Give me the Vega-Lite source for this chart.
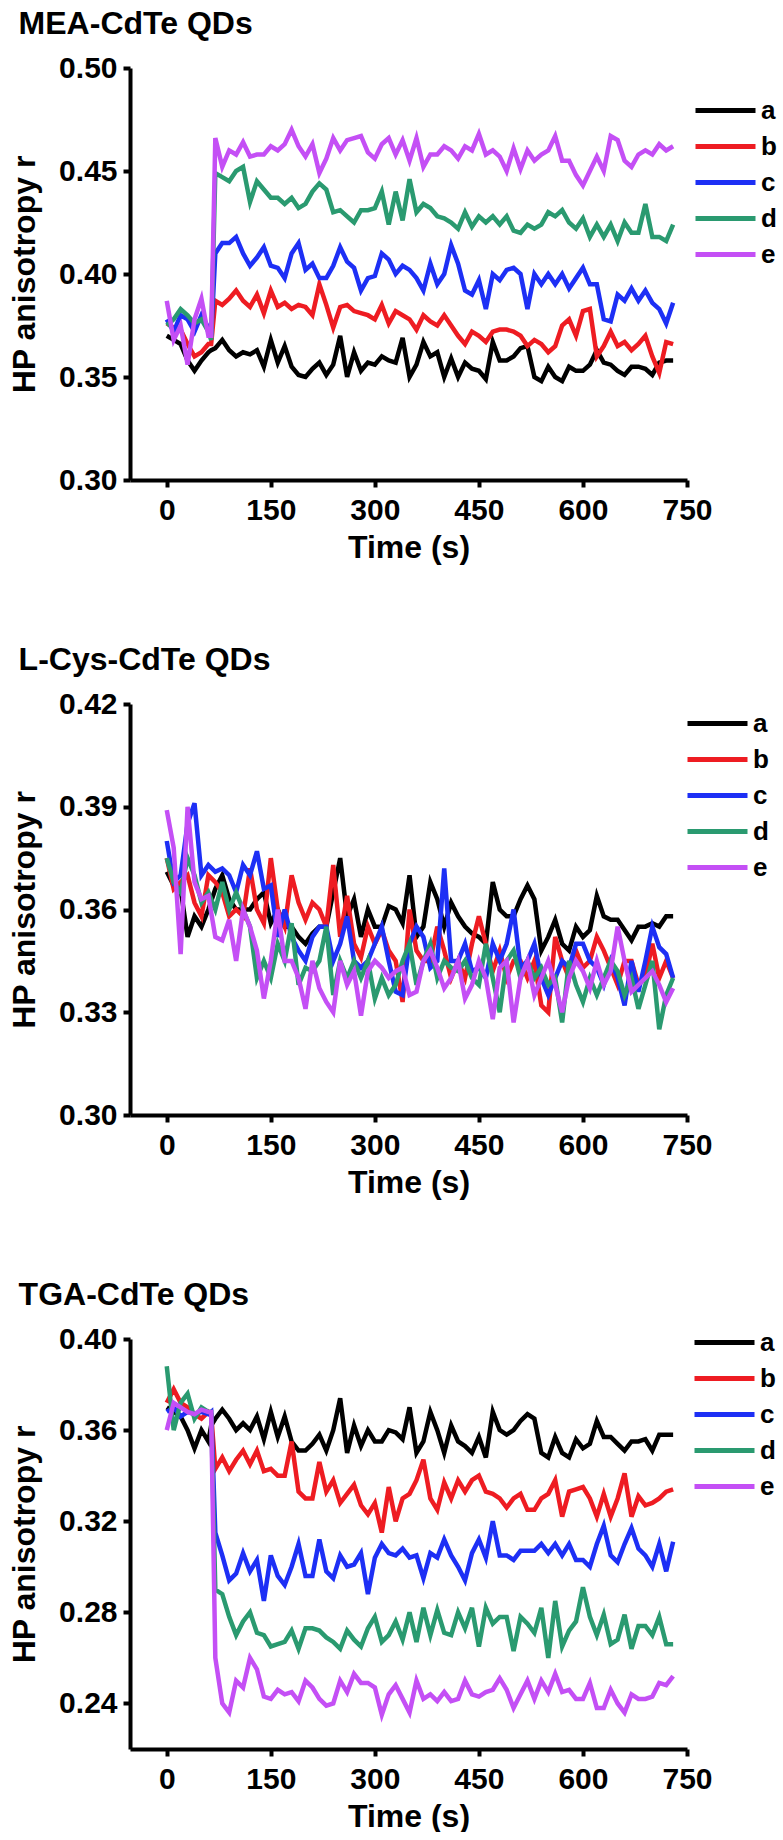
{
"$schema": "https://vega.github.io/schema/vega-lite/v6.json",
"padding": {"left": 8, "top": 8, "right": 0, "bottom": 0},
"autosize": {"type": "pad"},
"background": "white",
"config": {
 "view": {"stroke": null},
 "font": "Liberation Sans",
 "axis": {"grid": false, "domainColor": "black", "domainWidth": 4, "tickColor": "black", "tickWidth": 4, "tickSize": 7, "labelFont": "Liberation Sans", "labelFontWeight": "bold", "labelFontSize": 30, "labelColor": "black", "labelFlush": false, "labelOverlap": false, "titleFont": "Liberation Sans", "titleFontSize": 32, "titleFontWeight": "bold", "titleColor": "black"},
 "axisX": {"labelPadding": 8, "titlePadding": 7},
 "axisY": {"labelPadding": 6, "titlePadding": 17},
 "title": {"font": "Liberation Sans", "fontSize": 32, "fontWeight": "bold", "color": "black", "anchor": "start", "offset": 12, "dx": 10},
 "legend": {"title": null, "orient": "none", "symbolType": "M-2,0L2,0", "symbolSize": 900, "symbolStrokeWidth": 5, "labelFont": "Liberation Sans", "labelFontSize": 26, "labelFontWeight": "bold", "labelColor": "black", "labelOffset": 18, "rowPadding": 5, "padding": 0}
},
"bounds": "flush",
"spacing": 224,
"resolve": {"scale": {"color": "independent"}, "legend": {"color": "independent"}},
"datasets": {
"mea": [
{"t":0,"s":"a","r":0.370},{"t":0,"s":"b","r":0.376},{"t":0,"s":"c","r":0.378},{"t":0,"s":"d","r":0.375},{"t":0,"s":"e","r":0.387},
{"t":10,"s":"a","r":0.368},{"t":10,"s":"b","r":0.374},{"t":10,"s":"c","r":0.372},{"t":10,"s":"d","r":0.378},{"t":10,"s":"e","r":0.368},
{"t":20,"s":"a","r":0.366},{"t":20,"s":"b","r":0.373},{"t":20,"s":"c","r":0.380},{"t":20,"s":"d","r":0.383},{"t":20,"s":"e","r":0.375},
{"t":30,"s":"a","r":0.358},{"t":30,"s":"b","r":0.366},{"t":30,"s":"c","r":0.378},{"t":30,"s":"d","r":0.380},{"t":30,"s":"e","r":0.356},
{"t":40,"s":"a","r":0.353},{"t":40,"s":"b","r":0.360},{"t":40,"s":"c","r":0.372},{"t":40,"s":"d","r":0.376},{"t":40,"s":"e","r":0.378},
{"t":50,"s":"a","r":0.358},{"t":50,"s":"b","r":0.362},{"t":50,"s":"c","r":0.380},{"t":50,"s":"d","r":0.378},{"t":50,"s":"e","r":0.388},
{"t":60,"s":"a","r":0.362},{"t":60,"s":"b","r":0.366},{"t":60,"s":"c","r":0.374},{"t":60,"s":"d","r":0.372},{"t":60,"s":"e","r":0.370},
{"t":64,"s":"a","r":0.363},{"t":64,"s":"b","r":0.366},{"t":64,"s":"c","r":0.370},{"t":64,"s":"d","r":0.368},{"t":64,"s":"e","r":0.370},
{"t":70,"s":"a","r":0.364},{"t":70,"s":"b","r":0.387},{"t":70,"s":"c","r":0.410},{"t":70,"s":"d","r":0.449},{"t":70,"s":"e","r":0.466},
{"t":80,"s":"a","r":0.368},{"t":80,"s":"b","r":0.385},{"t":80,"s":"c","r":0.415},{"t":80,"s":"d","r":0.447},{"t":80,"s":"e","r":0.452},
{"t":90,"s":"a","r":0.363},{"t":90,"s":"b","r":0.388},{"t":90,"s":"c","r":0.415},{"t":90,"s":"d","r":0.445},{"t":90,"s":"e","r":0.460},
{"t":100,"s":"a","r":0.360},{"t":100,"s":"b","r":0.392},{"t":100,"s":"c","r":0.418},{"t":100,"s":"d","r":0.450},{"t":100,"s":"e","r":0.458},
{"t":110,"s":"a","r":0.362},{"t":110,"s":"b","r":0.387},{"t":110,"s":"c","r":0.410},{"t":110,"s":"d","r":0.452},{"t":110,"s":"e","r":0.464},
{"t":120,"s":"a","r":0.361},{"t":120,"s":"b","r":0.384},{"t":120,"s":"c","r":0.404},{"t":120,"s":"d","r":0.435},{"t":120,"s":"e","r":0.457},
{"t":130,"s":"a","r":0.363},{"t":130,"s":"b","r":0.390},{"t":130,"s":"c","r":0.408},{"t":130,"s":"d","r":0.445},{"t":130,"s":"e","r":0.458},
{"t":140,"s":"a","r":0.355},{"t":140,"s":"b","r":0.381},{"t":140,"s":"c","r":0.413},{"t":140,"s":"d","r":0.441},{"t":140,"s":"e","r":0.458},
{"t":150,"s":"a","r":0.368},{"t":150,"s":"b","r":0.392},{"t":150,"s":"c","r":0.404},{"t":150,"s":"d","r":0.437},{"t":150,"s":"e","r":0.462},
{"t":160,"s":"a","r":0.357},{"t":160,"s":"b","r":0.384},{"t":160,"s":"c","r":0.403},{"t":160,"s":"d","r":0.437},{"t":160,"s":"e","r":0.460},
{"t":170,"s":"a","r":0.365},{"t":170,"s":"b","r":0.386},{"t":170,"s":"c","r":0.398},{"t":170,"s":"d","r":0.434},{"t":170,"s":"e","r":0.463},
{"t":180,"s":"a","r":0.355},{"t":180,"s":"b","r":0.383},{"t":180,"s":"c","r":0.410},{"t":180,"s":"d","r":0.437},{"t":180,"s":"e","r":0.470},
{"t":190,"s":"a","r":0.351},{"t":190,"s":"b","r":0.385},{"t":190,"s":"c","r":0.415},{"t":190,"s":"d","r":0.432},{"t":190,"s":"e","r":0.462},
{"t":200,"s":"a","r":0.350},{"t":200,"s":"b","r":0.384},{"t":200,"s":"c","r":0.402},{"t":200,"s":"d","r":0.434},{"t":200,"s":"e","r":0.457},
{"t":210,"s":"a","r":0.354},{"t":210,"s":"b","r":0.380},{"t":210,"s":"c","r":0.405},{"t":210,"s":"d","r":0.440},{"t":210,"s":"e","r":0.463},
{"t":220,"s":"a","r":0.357},{"t":220,"s":"b","r":0.395},{"t":220,"s":"c","r":0.398},{"t":220,"s":"d","r":0.444},{"t":220,"s":"e","r":0.449},
{"t":230,"s":"a","r":0.351},{"t":230,"s":"b","r":0.385},{"t":230,"s":"c","r":0.398},{"t":230,"s":"d","r":0.441},{"t":230,"s":"e","r":0.456},
{"t":240,"s":"a","r":0.356},{"t":240,"s":"b","r":0.374},{"t":240,"s":"c","r":0.404},{"t":240,"s":"d","r":0.430},{"t":240,"s":"e","r":0.466},
{"t":250,"s":"a","r":0.370},{"t":250,"s":"b","r":0.384},{"t":250,"s":"c","r":0.413},{"t":250,"s":"d","r":0.431},{"t":250,"s":"e","r":0.460},
{"t":260,"s":"a","r":0.350},{"t":260,"s":"b","r":0.385},{"t":260,"s":"c","r":0.406},{"t":260,"s":"d","r":0.428},{"t":260,"s":"e","r":0.465},
{"t":270,"s":"a","r":0.362},{"t":270,"s":"b","r":0.382},{"t":270,"s":"c","r":0.403},{"t":270,"s":"d","r":0.425},{"t":270,"s":"e","r":0.466},
{"t":280,"s":"a","r":0.353},{"t":280,"s":"b","r":0.381},{"t":280,"s":"c","r":0.392},{"t":280,"s":"d","r":0.431},{"t":280,"s":"e","r":0.467},
{"t":290,"s":"a","r":0.357},{"t":290,"s":"b","r":0.380},{"t":290,"s":"c","r":0.398},{"t":290,"s":"d","r":0.431},{"t":290,"s":"e","r":0.459},
{"t":300,"s":"a","r":0.356},{"t":300,"s":"b","r":0.378},{"t":300,"s":"c","r":0.399},{"t":300,"s":"d","r":0.432},{"t":300,"s":"e","r":0.456},
{"t":310,"s":"a","r":0.360},{"t":310,"s":"b","r":0.385},{"t":310,"s":"c","r":0.410},{"t":310,"s":"d","r":0.440},{"t":310,"s":"e","r":0.463},
{"t":320,"s":"a","r":0.358},{"t":320,"s":"b","r":0.376},{"t":320,"s":"c","r":0.407},{"t":320,"s":"d","r":0.424},{"t":320,"s":"e","r":0.466},
{"t":330,"s":"a","r":0.357},{"t":330,"s":"b","r":0.382},{"t":330,"s":"c","r":0.400},{"t":330,"s":"d","r":0.440},{"t":330,"s":"e","r":0.458},
{"t":340,"s":"a","r":0.369},{"t":340,"s":"b","r":0.380},{"t":340,"s":"c","r":0.404},{"t":340,"s":"d","r":0.426},{"t":340,"s":"e","r":0.465},
{"t":350,"s":"a","r":0.350},{"t":350,"s":"b","r":0.378},{"t":350,"s":"c","r":0.402},{"t":350,"s":"d","r":0.446},{"t":350,"s":"e","r":0.455},
{"t":360,"s":"a","r":0.356},{"t":360,"s":"b","r":0.373},{"t":360,"s":"c","r":0.398},{"t":360,"s":"d","r":0.430},{"t":360,"s":"e","r":0.466},
{"t":370,"s":"a","r":0.367},{"t":370,"s":"b","r":0.380},{"t":370,"s":"c","r":0.392},{"t":370,"s":"d","r":0.434},{"t":370,"s":"e","r":0.452},
{"t":380,"s":"a","r":0.360},{"t":380,"s":"b","r":0.377},{"t":380,"s":"c","r":0.405},{"t":380,"s":"d","r":0.432},{"t":380,"s":"e","r":0.458},
{"t":390,"s":"a","r":0.362},{"t":390,"s":"b","r":0.375},{"t":390,"s":"c","r":0.395},{"t":390,"s":"d","r":0.428},{"t":390,"s":"e","r":0.458},
{"t":400,"s":"a","r":0.350},{"t":400,"s":"b","r":0.380},{"t":400,"s":"c","r":0.400},{"t":400,"s":"d","r":0.427},{"t":400,"s":"e","r":0.462},
{"t":410,"s":"a","r":0.359},{"t":410,"s":"b","r":0.375},{"t":410,"s":"c","r":0.414},{"t":410,"s":"d","r":0.425},{"t":410,"s":"e","r":0.460},
{"t":420,"s":"a","r":0.350},{"t":420,"s":"b","r":0.370},{"t":420,"s":"c","r":0.405},{"t":420,"s":"d","r":0.422},{"t":420,"s":"e","r":0.456},
{"t":430,"s":"a","r":0.357},{"t":430,"s":"b","r":0.366},{"t":430,"s":"c","r":0.392},{"t":430,"s":"d","r":0.430},{"t":430,"s":"e","r":0.462},
{"t":440,"s":"a","r":0.354},{"t":440,"s":"b","r":0.372},{"t":440,"s":"c","r":0.390},{"t":440,"s":"d","r":0.423},{"t":440,"s":"e","r":0.460},
{"t":450,"s":"a","r":0.353},{"t":450,"s":"b","r":0.370},{"t":450,"s":"c","r":0.397},{"t":450,"s":"d","r":0.428},{"t":450,"s":"e","r":0.468},
{"t":460,"s":"a","r":0.349},{"t":460,"s":"b","r":0.367},{"t":460,"s":"c","r":0.383},{"t":460,"s":"d","r":0.425},{"t":460,"s":"e","r":0.458},
{"t":470,"s":"a","r":0.367},{"t":470,"s":"b","r":0.372},{"t":470,"s":"c","r":0.400},{"t":470,"s":"d","r":0.428},{"t":470,"s":"e","r":0.460},
{"t":480,"s":"a","r":0.358},{"t":480,"s":"b","r":0.373},{"t":480,"s":"c","r":0.397},{"t":480,"s":"d","r":0.424},{"t":480,"s":"e","r":0.457},
{"t":490,"s":"a","r":0.358},{"t":490,"s":"b","r":0.373},{"t":490,"s":"c","r":0.402},{"t":490,"s":"d","r":0.428},{"t":490,"s":"e","r":0.450},
{"t":500,"s":"a","r":0.360},{"t":500,"s":"b","r":0.372},{"t":500,"s":"c","r":0.403},{"t":500,"s":"d","r":0.421},{"t":500,"s":"e","r":0.461},
{"t":510,"s":"a","r":0.364},{"t":510,"s":"b","r":0.370},{"t":510,"s":"c","r":0.400},{"t":510,"s":"d","r":0.420},{"t":510,"s":"e","r":0.451},
{"t":520,"s":"a","r":0.365},{"t":520,"s":"b","r":0.365},{"t":520,"s":"c","r":0.383},{"t":520,"s":"d","r":0.424},{"t":520,"s":"e","r":0.460},
{"t":530,"s":"a","r":0.350},{"t":530,"s":"b","r":0.368},{"t":530,"s":"c","r":0.400},{"t":530,"s":"d","r":0.422},{"t":530,"s":"e","r":0.455},
{"t":540,"s":"a","r":0.348},{"t":540,"s":"b","r":0.366},{"t":540,"s":"c","r":0.395},{"t":540,"s":"d","r":0.424},{"t":540,"s":"e","r":0.458},
{"t":550,"s":"a","r":0.355},{"t":550,"s":"b","r":0.362},{"t":550,"s":"c","r":0.400},{"t":550,"s":"d","r":0.430},{"t":550,"s":"e","r":0.460},
{"t":560,"s":"a","r":0.350},{"t":560,"s":"b","r":0.365},{"t":560,"s":"c","r":0.395},{"t":560,"s":"d","r":0.428},{"t":560,"s":"e","r":0.467},
{"t":570,"s":"a","r":0.348},{"t":570,"s":"b","r":0.375},{"t":570,"s":"c","r":0.400},{"t":570,"s":"d","r":0.431},{"t":570,"s":"e","r":0.455},
{"t":580,"s":"a","r":0.355},{"t":580,"s":"b","r":0.378},{"t":580,"s":"c","r":0.393},{"t":580,"s":"d","r":0.425},{"t":580,"s":"e","r":0.455},
{"t":590,"s":"a","r":0.353},{"t":590,"s":"b","r":0.370},{"t":590,"s":"c","r":0.398},{"t":590,"s":"d","r":0.422},{"t":590,"s":"e","r":0.448},
{"t":600,"s":"a","r":0.353},{"t":600,"s":"b","r":0.382},{"t":600,"s":"c","r":0.403},{"t":600,"s":"d","r":0.427},{"t":600,"s":"e","r":0.443},
{"t":610,"s":"a","r":0.356},{"t":610,"s":"b","r":0.383},{"t":610,"s":"c","r":0.395},{"t":610,"s":"d","r":0.418},{"t":610,"s":"e","r":0.450},
{"t":620,"s":"a","r":0.363},{"t":620,"s":"b","r":0.360},{"t":620,"s":"c","r":0.395},{"t":620,"s":"d","r":0.424},{"t":620,"s":"e","r":0.457},
{"t":630,"s":"a","r":0.357},{"t":630,"s":"b","r":0.365},{"t":630,"s":"c","r":0.378},{"t":630,"s":"d","r":0.418},{"t":630,"s":"e","r":0.450},
{"t":640,"s":"a","r":0.356},{"t":640,"s":"b","r":0.372},{"t":640,"s":"c","r":0.377},{"t":640,"s":"d","r":0.424},{"t":640,"s":"e","r":0.467},
{"t":650,"s":"a","r":0.353},{"t":650,"s":"b","r":0.365},{"t":650,"s":"c","r":0.390},{"t":650,"s":"d","r":0.416},{"t":650,"s":"e","r":0.465},
{"t":660,"s":"a","r":0.351},{"t":660,"s":"b","r":0.367},{"t":660,"s":"c","r":0.387},{"t":660,"s":"d","r":0.425},{"t":660,"s":"e","r":0.455},
{"t":670,"s":"a","r":0.355},{"t":670,"s":"b","r":0.363},{"t":670,"s":"c","r":0.393},{"t":670,"s":"d","r":0.420},{"t":670,"s":"e","r":0.452},
{"t":680,"s":"a","r":0.355},{"t":680,"s":"b","r":0.366},{"t":680,"s":"c","r":0.387},{"t":680,"s":"d","r":0.420},{"t":680,"s":"e","r":0.458},
{"t":690,"s":"a","r":0.354},{"t":690,"s":"b","r":0.370},{"t":690,"s":"c","r":0.392},{"t":690,"s":"d","r":0.434},{"t":690,"s":"e","r":0.460},
{"t":700,"s":"a","r":0.351},{"t":700,"s":"b","r":0.360},{"t":700,"s":"c","r":0.386},{"t":700,"s":"d","r":0.418},{"t":700,"s":"e","r":0.458},
{"t":710,"s":"a","r":0.357},{"t":710,"s":"b","r":0.352},{"t":710,"s":"c","r":0.383},{"t":710,"s":"d","r":0.418},{"t":710,"s":"e","r":0.463},
{"t":720,"s":"a","r":0.358},{"t":720,"s":"b","r":0.367},{"t":720,"s":"c","r":0.376},{"t":720,"s":"d","r":0.416},{"t":720,"s":"e","r":0.460},
{"t":730,"s":"a","r":0.358},{"t":730,"s":"b","r":0.366},{"t":730,"s":"c","r":0.386},{"t":730,"s":"d","r":0.424},{"t":730,"s":"e","r":0.462}
],
"cys": [
{"t":0,"s":"a","r":0.371},{"t":0,"s":"b","r":0.375},{"t":0,"s":"c","r":0.380},{"t":0,"s":"d","r":0.375},{"t":0,"s":"e","r":0.389},
{"t":10,"s":"a","r":0.367},{"t":10,"s":"b","r":0.366},{"t":10,"s":"c","r":0.368},{"t":10,"s":"d","r":0.368},{"t":10,"s":"e","r":0.378},
{"t":20,"s":"a","r":0.366},{"t":20,"s":"b","r":0.368},{"t":20,"s":"c","r":0.370},{"t":20,"s":"d","r":0.365},{"t":20,"s":"e","r":0.347},
{"t":30,"s":"a","r":0.352},{"t":30,"s":"b","r":0.370},{"t":30,"s":"c","r":0.385},{"t":30,"s":"d","r":0.375},{"t":30,"s":"e","r":0.390},
{"t":40,"s":"a","r":0.358},{"t":40,"s":"b","r":0.362},{"t":40,"s":"c","r":0.391},{"t":40,"s":"d","r":0.370},{"t":40,"s":"e","r":0.368},
{"t":50,"s":"a","r":0.355},{"t":50,"s":"b","r":0.358},{"t":50,"s":"c","r":0.370},{"t":50,"s":"d","r":0.362},{"t":50,"s":"e","r":0.363},
{"t":60,"s":"a","r":0.360},{"t":60,"s":"b","r":0.370},{"t":60,"s":"c","r":0.373},{"t":60,"s":"d","r":0.365},{"t":60,"s":"e","r":0.364},
{"t":70,"s":"a","r":0.366},{"t":70,"s":"b","r":0.368},{"t":70,"s":"c","r":0.371},{"t":70,"s":"d","r":0.360},{"t":70,"s":"e","r":0.352},
{"t":80,"s":"a","r":0.370},{"t":80,"s":"b","r":0.365},{"t":80,"s":"c","r":0.372},{"t":80,"s":"d","r":0.368},{"t":80,"s":"e","r":0.351},
{"t":90,"s":"a","r":0.363},{"t":90,"s":"b","r":0.358},{"t":90,"s":"c","r":0.370},{"t":90,"s":"d","r":0.360},{"t":90,"s":"e","r":0.357},
{"t":100,"s":"a","r":0.360},{"t":100,"s":"b","r":0.360},{"t":100,"s":"c","r":0.365},{"t":100,"s":"d","r":0.365},{"t":100,"s":"e","r":0.345},
{"t":110,"s":"a","r":0.360},{"t":110,"s":"b","r":0.358},{"t":110,"s":"c","r":0.373},{"t":110,"s":"d","r":0.360},{"t":110,"s":"e","r":0.360},
{"t":120,"s":"a","r":0.360},{"t":120,"s":"b","r":0.372},{"t":120,"s":"c","r":0.370},{"t":120,"s":"d","r":0.355},{"t":120,"s":"e","r":0.355},
{"t":130,"s":"a","r":0.363},{"t":130,"s":"b","r":0.360},{"t":130,"s":"c","r":0.377},{"t":130,"s":"d","r":0.340},{"t":130,"s":"e","r":0.348},
{"t":140,"s":"a","r":0.365},{"t":140,"s":"b","r":0.356},{"t":140,"s":"c","r":0.366},{"t":140,"s":"d","r":0.345},{"t":140,"s":"e","r":0.334},
{"t":150,"s":"a","r":0.356},{"t":150,"s":"b","r":0.375},{"t":150,"s":"c","r":0.367},{"t":150,"s":"d","r":0.340},{"t":150,"s":"e","r":0.345},
{"t":160,"s":"a","r":0.360},{"t":160,"s":"b","r":0.360},{"t":160,"s":"c","r":0.352},{"t":160,"s":"d","r":0.350},{"t":160,"s":"e","r":0.360},
{"t":170,"s":"a","r":0.355},{"t":170,"s":"b","r":0.355},{"t":170,"s":"c","r":0.360},{"t":170,"s":"d","r":0.345},{"t":170,"s":"e","r":0.345},
{"t":180,"s":"a","r":0.355},{"t":180,"s":"b","r":0.370},{"t":180,"s":"c","r":0.352},{"t":180,"s":"d","r":0.356},{"t":180,"s":"e","r":0.345},
{"t":190,"s":"a","r":0.352},{"t":190,"s":"b","r":0.362},{"t":190,"s":"c","r":0.348},{"t":190,"s":"d","r":0.338},{"t":190,"s":"e","r":0.340},
{"t":200,"s":"a","r":0.350},{"t":200,"s":"b","r":0.357},{"t":200,"s":"c","r":0.345},{"t":200,"s":"d","r":0.343},{"t":200,"s":"e","r":0.331},
{"t":210,"s":"a","r":0.353},{"t":210,"s":"b","r":0.362},{"t":210,"s":"c","r":0.352},{"t":210,"s":"d","r":0.342},{"t":210,"s":"e","r":0.345},
{"t":220,"s":"a","r":0.355},{"t":220,"s":"b","r":0.360},{"t":220,"s":"c","r":0.355},{"t":220,"s":"d","r":0.345},{"t":220,"s":"e","r":0.337},
{"t":230,"s":"a","r":0.355},{"t":230,"s":"b","r":0.355},{"t":230,"s":"c","r":0.355},{"t":230,"s":"d","r":0.355},{"t":230,"s":"e","r":0.333},
{"t":240,"s":"a","r":0.365},{"t":240,"s":"b","r":0.373},{"t":240,"s":"c","r":0.345},{"t":240,"s":"d","r":0.335},{"t":240,"s":"e","r":0.330},
{"t":250,"s":"a","r":0.375},{"t":250,"s":"b","r":0.352},{"t":250,"s":"c","r":0.350},{"t":250,"s":"d","r":0.345},{"t":250,"s":"e","r":0.345},
{"t":260,"s":"a","r":0.358},{"t":260,"s":"b","r":0.364},{"t":260,"s":"c","r":0.358},{"t":260,"s":"d","r":0.340},{"t":260,"s":"e","r":0.338},
{"t":270,"s":"a","r":0.363},{"t":270,"s":"b","r":0.350},{"t":270,"s":"c","r":0.345},{"t":270,"s":"d","r":0.345},{"t":270,"s":"e","r":0.342},
{"t":280,"s":"a","r":0.352},{"t":280,"s":"b","r":0.346},{"t":280,"s":"c","r":0.343},{"t":280,"s":"d","r":0.340},{"t":280,"s":"e","r":0.329},
{"t":290,"s":"a","r":0.360},{"t":290,"s":"b","r":0.355},{"t":290,"s":"c","r":0.345},{"t":290,"s":"d","r":0.345},{"t":290,"s":"e","r":0.342},
{"t":300,"s":"a","r":0.355},{"t":300,"s":"b","r":0.350},{"t":300,"s":"c","r":0.350},{"t":300,"s":"d","r":0.334},{"t":300,"s":"e","r":0.345},
{"t":310,"s":"a","r":0.355},{"t":310,"s":"b","r":0.354},{"t":310,"s":"c","r":0.355},{"t":310,"s":"d","r":0.340},{"t":310,"s":"e","r":0.343},
{"t":320,"s":"a","r":0.361},{"t":320,"s":"b","r":0.348},{"t":320,"s":"c","r":0.345},{"t":320,"s":"d","r":0.335},{"t":320,"s":"e","r":0.340},
{"t":330,"s":"a","r":0.360},{"t":330,"s":"b","r":0.345},{"t":330,"s":"c","r":0.336},{"t":330,"s":"d","r":0.338},{"t":330,"s":"e","r":0.342},
{"t":340,"s":"a","r":0.356},{"t":340,"s":"b","r":0.333},{"t":340,"s":"c","r":0.335},{"t":340,"s":"d","r":0.345},{"t":340,"s":"e","r":0.343},
{"t":350,"s":"a","r":0.370},{"t":350,"s":"b","r":0.360},{"t":350,"s":"c","r":0.350},{"t":350,"s":"d","r":0.350},{"t":350,"s":"e","r":0.335},
{"t":360,"s":"a","r":0.352},{"t":360,"s":"b","r":0.348},{"t":360,"s":"c","r":0.355},{"t":360,"s":"d","r":0.338},{"t":360,"s":"e","r":0.336},
{"t":370,"s":"a","r":0.355},{"t":370,"s":"b","r":0.345},{"t":370,"s":"c","r":0.352},{"t":370,"s":"d","r":0.345},{"t":370,"s":"e","r":0.345},
{"t":380,"s":"a","r":0.368},{"t":380,"s":"b","r":0.345},{"t":380,"s":"c","r":0.343},{"t":380,"s":"d","r":0.350},{"t":380,"s":"e","r":0.348},
{"t":390,"s":"a","r":0.363},{"t":390,"s":"b","r":0.355},{"t":390,"s":"c","r":0.345},{"t":390,"s":"d","r":0.340},{"t":390,"s":"e","r":0.343},
{"t":400,"s":"a","r":0.355},{"t":400,"s":"b","r":0.348},{"t":400,"s":"c","r":0.372},{"t":400,"s":"d","r":0.345},{"t":400,"s":"e","r":0.337},
{"t":410,"s":"a","r":0.362},{"t":410,"s":"b","r":0.340},{"t":410,"s":"c","r":0.345},{"t":410,"s":"d","r":0.343},{"t":410,"s":"e","r":0.340},
{"t":420,"s":"a","r":0.358},{"t":420,"s":"b","r":0.345},{"t":420,"s":"c","r":0.345},{"t":420,"s":"d","r":0.342},{"t":420,"s":"e","r":0.345},
{"t":430,"s":"a","r":0.355},{"t":430,"s":"b","r":0.340},{"t":430,"s":"c","r":0.350},{"t":430,"s":"d","r":0.345},{"t":430,"s":"e","r":0.334},
{"t":440,"s":"a","r":0.353},{"t":440,"s":"b","r":0.350},{"t":440,"s":"c","r":0.342},{"t":440,"s":"d","r":0.340},{"t":440,"s":"e","r":0.338},
{"t":450,"s":"a","r":0.352},{"t":450,"s":"b","r":0.358},{"t":450,"s":"c","r":0.343},{"t":450,"s":"d","r":0.338},{"t":450,"s":"e","r":0.345},
{"t":460,"s":"a","r":0.350},{"t":460,"s":"b","r":0.350},{"t":460,"s":"c","r":0.340},{"t":460,"s":"d","r":0.350},{"t":460,"s":"e","r":0.340},
{"t":470,"s":"a","r":0.368},{"t":470,"s":"b","r":0.342},{"t":470,"s":"c","r":0.350},{"t":470,"s":"d","r":0.340},{"t":470,"s":"e","r":0.328},
{"t":480,"s":"a","r":0.360},{"t":480,"s":"b","r":0.348},{"t":480,"s":"c","r":0.345},{"t":480,"s":"d","r":0.330},{"t":480,"s":"e","r":0.343},
{"t":490,"s":"a","r":0.358},{"t":490,"s":"b","r":0.340},{"t":490,"s":"c","r":0.350},{"t":490,"s":"d","r":0.345},{"t":490,"s":"e","r":0.345},
{"t":500,"s":"a","r":0.358},{"t":500,"s":"b","r":0.345},{"t":500,"s":"c","r":0.360},{"t":500,"s":"d","r":0.348},{"t":500,"s":"e","r":0.327},
{"t":510,"s":"a","r":0.363},{"t":510,"s":"b","r":0.345},{"t":510,"s":"c","r":0.343},{"t":510,"s":"d","r":0.340},{"t":510,"s":"e","r":0.340},
{"t":520,"s":"a","r":0.367},{"t":520,"s":"b","r":0.340},{"t":520,"s":"c","r":0.345},{"t":520,"s":"d","r":0.345},{"t":520,"s":"e","r":0.345},
{"t":530,"s":"a","r":0.363},{"t":530,"s":"b","r":0.345},{"t":530,"s":"c","r":0.350},{"t":530,"s":"d","r":0.340},{"t":530,"s":"e","r":0.335},
{"t":540,"s":"a","r":0.348},{"t":540,"s":"b","r":0.332},{"t":540,"s":"c","r":0.340},{"t":540,"s":"d","r":0.343},{"t":540,"s":"e","r":0.340},
{"t":550,"s":"a","r":0.352},{"t":550,"s":"b","r":0.330},{"t":550,"s":"c","r":0.335},{"t":550,"s":"d","r":0.338},{"t":550,"s":"e","r":0.345},
{"t":560,"s":"a","r":0.357},{"t":560,"s":"b","r":0.352},{"t":560,"s":"c","r":0.340},{"t":560,"s":"d","r":0.340},{"t":560,"s":"e","r":0.338},
{"t":570,"s":"a","r":0.350},{"t":570,"s":"b","r":0.345},{"t":570,"s":"c","r":0.345},{"t":570,"s":"d","r":0.327},{"t":570,"s":"e","r":0.330},
{"t":580,"s":"a","r":0.348},{"t":580,"s":"b","r":0.340},{"t":580,"s":"c","r":0.343},{"t":580,"s":"d","r":0.345},{"t":580,"s":"e","r":0.340},
{"t":590,"s":"a","r":0.355},{"t":590,"s":"b","r":0.348},{"t":590,"s":"c","r":0.350},{"t":590,"s":"d","r":0.338},{"t":590,"s":"e","r":0.345},
{"t":600,"s":"a","r":0.352},{"t":600,"s":"b","r":0.343},{"t":600,"s":"c","r":0.350},{"t":600,"s":"d","r":0.333},{"t":600,"s":"e","r":0.342},
{"t":610,"s":"a","r":0.354},{"t":610,"s":"b","r":0.345},{"t":610,"s":"c","r":0.345},{"t":610,"s":"d","r":0.340},{"t":610,"s":"e","r":0.337},
{"t":620,"s":"a","r":0.364},{"t":620,"s":"b","r":0.352},{"t":620,"s":"c","r":0.343},{"t":620,"s":"d","r":0.335},{"t":620,"s":"e","r":0.345},
{"t":630,"s":"a","r":0.358},{"t":630,"s":"b","r":0.348},{"t":630,"s":"c","r":0.338},{"t":630,"s":"d","r":0.340},{"t":630,"s":"e","r":0.338},
{"t":640,"s":"a","r":0.357},{"t":640,"s":"b","r":0.343},{"t":640,"s":"c","r":0.345},{"t":640,"s":"d","r":0.345},{"t":640,"s":"e","r":0.342},
{"t":650,"s":"a","r":0.357},{"t":650,"s":"b","r":0.338},{"t":650,"s":"c","r":0.340},{"t":650,"s":"d","r":0.342},{"t":650,"s":"e","r":0.355},
{"t":660,"s":"a","r":0.354},{"t":660,"s":"b","r":0.345},{"t":660,"s":"c","r":0.332},{"t":660,"s":"d","r":0.335},{"t":660,"s":"e","r":0.345},
{"t":670,"s":"a","r":0.351},{"t":670,"s":"b","r":0.345},{"t":670,"s":"c","r":0.345},{"t":670,"s":"d","r":0.340},{"t":670,"s":"e","r":0.336},
{"t":680,"s":"a","r":0.355},{"t":680,"s":"b","r":0.338},{"t":680,"s":"c","r":0.336},{"t":680,"s":"d","r":0.331},{"t":680,"s":"e","r":0.338},
{"t":690,"s":"a","r":0.355},{"t":690,"s":"b","r":0.340},{"t":690,"s":"c","r":0.345},{"t":690,"s":"d","r":0.338},{"t":690,"s":"e","r":0.340},
{"t":700,"s":"a","r":0.356},{"t":700,"s":"b","r":0.350},{"t":700,"s":"c","r":0.355},{"t":700,"s":"d","r":0.345},{"t":700,"s":"e","r":0.342},
{"t":710,"s":"a","r":0.355},{"t":710,"s":"b","r":0.340},{"t":710,"s":"c","r":0.349},{"t":710,"s":"d","r":0.325},{"t":710,"s":"e","r":0.338},
{"t":720,"s":"a","r":0.358},{"t":720,"s":"b","r":0.345},{"t":720,"s":"c","r":0.347},{"t":720,"s":"d","r":0.335},{"t":720,"s":"e","r":0.333},
{"t":730,"s":"a","r":0.358},{"t":730,"s":"b","r":0.340},{"t":730,"s":"c","r":0.340},{"t":730,"s":"d","r":0.340},{"t":730,"s":"e","r":0.337}
],
"tga": [
{"t":0,"s":"a","r":0.370},{"t":0,"s":"b","r":0.372},{"t":0,"s":"c","r":0.368},{"t":0,"s":"d","r":0.388},{"t":0,"s":"e","r":0.360},
{"t":10,"s":"a","r":0.368},{"t":10,"s":"b","r":0.378},{"t":10,"s":"c","r":0.370},{"t":10,"s":"d","r":0.360},{"t":10,"s":"e","r":0.372},
{"t":20,"s":"a","r":0.366},{"t":20,"s":"b","r":0.372},{"t":20,"s":"c","r":0.366},{"t":20,"s":"d","r":0.372},{"t":20,"s":"e","r":0.370},
{"t":30,"s":"a","r":0.360},{"t":30,"s":"b","r":0.370},{"t":30,"s":"c","r":0.368},{"t":30,"s":"d","r":0.376},{"t":30,"s":"e","r":0.368},
{"t":40,"s":"a","r":0.352},{"t":40,"s":"b","r":0.367},{"t":40,"s":"c","r":0.367},{"t":40,"s":"d","r":0.365},{"t":40,"s":"e","r":0.367},
{"t":50,"s":"a","r":0.360},{"t":50,"s":"b","r":0.365},{"t":50,"s":"c","r":0.368},{"t":50,"s":"d","r":0.370},{"t":50,"s":"e","r":0.369},
{"t":60,"s":"a","r":0.355},{"t":60,"s":"b","r":0.368},{"t":60,"s":"c","r":0.367},{"t":60,"s":"d","r":0.368},{"t":60,"s":"e","r":0.368},
{"t":64,"s":"a","r":0.362},{"t":64,"s":"b","r":0.367},{"t":64,"s":"c","r":0.368},{"t":64,"s":"d","r":0.368},{"t":64,"s":"e","r":0.368},
{"t":70,"s":"a","r":0.365},{"t":70,"s":"b","r":0.343},{"t":70,"s":"c","r":0.315},{"t":70,"s":"d","r":0.290},{"t":70,"s":"e","r":0.260},
{"t":80,"s":"a","r":0.369},{"t":80,"s":"b","r":0.348},{"t":80,"s":"c","r":0.305},{"t":80,"s":"d","r":0.288},{"t":80,"s":"e","r":0.240},
{"t":90,"s":"a","r":0.365},{"t":90,"s":"b","r":0.342},{"t":90,"s":"c","r":0.294},{"t":90,"s":"d","r":0.278},{"t":90,"s":"e","r":0.236},
{"t":100,"s":"a","r":0.360},{"t":100,"s":"b","r":0.347},{"t":100,"s":"c","r":0.297},{"t":100,"s":"d","r":0.270},{"t":100,"s":"e","r":0.250},
{"t":110,"s":"a","r":0.363},{"t":110,"s":"b","r":0.351},{"t":110,"s":"c","r":0.306},{"t":110,"s":"d","r":0.276},{"t":110,"s":"e","r":0.247},
{"t":120,"s":"a","r":0.360},{"t":120,"s":"b","r":0.345},{"t":120,"s":"c","r":0.298},{"t":120,"s":"d","r":0.280},{"t":120,"s":"e","r":0.260},
{"t":130,"s":"a","r":0.366},{"t":130,"s":"b","r":0.351},{"t":130,"s":"c","r":0.303},{"t":130,"s":"d","r":0.271},{"t":130,"s":"e","r":0.255},
{"t":140,"s":"a","r":0.356},{"t":140,"s":"b","r":0.342},{"t":140,"s":"c","r":0.285},{"t":140,"s":"d","r":0.270},{"t":140,"s":"e","r":0.243},
{"t":150,"s":"a","r":0.368},{"t":150,"s":"b","r":0.343},{"t":150,"s":"c","r":0.305},{"t":150,"s":"d","r":0.265},{"t":150,"s":"e","r":0.242},
{"t":160,"s":"a","r":0.357},{"t":160,"s":"b","r":0.340},{"t":160,"s":"c","r":0.296},{"t":160,"s":"d","r":0.266},{"t":160,"s":"e","r":0.246},
{"t":170,"s":"a","r":0.366},{"t":170,"s":"b","r":0.340},{"t":170,"s":"c","r":0.292},{"t":170,"s":"d","r":0.267},{"t":170,"s":"e","r":0.244},
{"t":180,"s":"a","r":0.355},{"t":180,"s":"b","r":0.355},{"t":180,"s":"c","r":0.300},{"t":180,"s":"d","r":0.272},{"t":180,"s":"e","r":0.245},
{"t":190,"s":"a","r":0.351},{"t":190,"s":"b","r":0.333},{"t":190,"s":"c","r":0.310},{"t":190,"s":"d","r":0.264},{"t":190,"s":"e","r":0.241},
{"t":200,"s":"a","r":0.351},{"t":200,"s":"b","r":0.330},{"t":200,"s":"c","r":0.296},{"t":200,"s":"d","r":0.273},{"t":200,"s":"e","r":0.250},
{"t":210,"s":"a","r":0.354},{"t":210,"s":"b","r":0.330},{"t":210,"s":"c","r":0.296},{"t":210,"s":"d","r":0.273},{"t":210,"s":"e","r":0.247},
{"t":220,"s":"a","r":0.358},{"t":220,"s":"b","r":0.346},{"t":220,"s":"c","r":0.312},{"t":220,"s":"d","r":0.272},{"t":220,"s":"e","r":0.242},
{"t":230,"s":"a","r":0.351},{"t":230,"s":"b","r":0.333},{"t":230,"s":"c","r":0.298},{"t":230,"s":"d","r":0.269},{"t":230,"s":"e","r":0.239},
{"t":240,"s":"a","r":0.360},{"t":240,"s":"b","r":0.338},{"t":240,"s":"c","r":0.295},{"t":240,"s":"d","r":0.267},{"t":240,"s":"e","r":0.240},
{"t":250,"s":"a","r":0.374},{"t":250,"s":"b","r":0.328},{"t":250,"s":"c","r":0.305},{"t":250,"s":"d","r":0.264},{"t":250,"s":"e","r":0.250},
{"t":260,"s":"a","r":0.350},{"t":260,"s":"b","r":0.332},{"t":260,"s":"c","r":0.300},{"t":260,"s":"d","r":0.272},{"t":260,"s":"e","r":0.245},
{"t":270,"s":"a","r":0.362},{"t":270,"s":"b","r":0.336},{"t":270,"s":"c","r":0.301},{"t":270,"s":"d","r":0.268},{"t":270,"s":"e","r":0.253},
{"t":280,"s":"a","r":0.353},{"t":280,"s":"b","r":0.327},{"t":280,"s":"c","r":0.306},{"t":280,"s":"d","r":0.265},{"t":280,"s":"e","r":0.249},
{"t":290,"s":"a","r":0.360},{"t":290,"s":"b","r":0.323},{"t":290,"s":"c","r":0.288},{"t":290,"s":"d","r":0.273},{"t":290,"s":"e","r":0.249},
{"t":300,"s":"a","r":0.355},{"t":300,"s":"b","r":0.328},{"t":300,"s":"c","r":0.304},{"t":300,"s":"d","r":0.278},{"t":300,"s":"e","r":0.247},
{"t":310,"s":"a","r":0.355},{"t":310,"s":"b","r":0.315},{"t":310,"s":"c","r":0.310},{"t":310,"s":"d","r":0.267},{"t":310,"s":"e","r":0.235},
{"t":320,"s":"a","r":0.360},{"t":320,"s":"b","r":0.335},{"t":320,"s":"c","r":0.306},{"t":320,"s":"d","r":0.270},{"t":320,"s":"e","r":0.244},
{"t":330,"s":"a","r":0.359},{"t":330,"s":"b","r":0.320},{"t":330,"s":"c","r":0.305},{"t":330,"s":"d","r":0.276},{"t":330,"s":"e","r":0.248},
{"t":340,"s":"a","r":0.356},{"t":340,"s":"b","r":0.330},{"t":340,"s":"c","r":0.308},{"t":340,"s":"d","r":0.268},{"t":340,"s":"e","r":0.242},
{"t":350,"s":"a","r":0.370},{"t":350,"s":"b","r":0.332},{"t":350,"s":"c","r":0.304},{"t":350,"s":"d","r":0.280},{"t":350,"s":"e","r":0.236},
{"t":360,"s":"a","r":0.350},{"t":360,"s":"b","r":0.338},{"t":360,"s":"c","r":0.305},{"t":360,"s":"d","r":0.267},{"t":360,"s":"e","r":0.250},
{"t":370,"s":"a","r":0.355},{"t":370,"s":"b","r":0.347},{"t":370,"s":"c","r":0.295},{"t":370,"s":"d","r":0.282},{"t":370,"s":"e","r":0.242},
{"t":380,"s":"a","r":0.368},{"t":380,"s":"b","r":0.330},{"t":380,"s":"c","r":0.306},{"t":380,"s":"d","r":0.270},{"t":380,"s":"e","r":0.244},
{"t":390,"s":"a","r":0.360},{"t":390,"s":"b","r":0.325},{"t":390,"s":"c","r":0.304},{"t":390,"s":"d","r":0.281},{"t":390,"s":"e","r":0.241},
{"t":400,"s":"a","r":0.350},{"t":400,"s":"b","r":0.337},{"t":400,"s":"c","r":0.312},{"t":400,"s":"d","r":0.271},{"t":400,"s":"e","r":0.245},
{"t":410,"s":"a","r":0.362},{"t":410,"s":"b","r":0.330},{"t":410,"s":"c","r":0.305},{"t":410,"s":"d","r":0.270},{"t":410,"s":"e","r":0.241},
{"t":420,"s":"a","r":0.355},{"t":420,"s":"b","r":0.338},{"t":420,"s":"c","r":0.300},{"t":420,"s":"d","r":0.280},{"t":420,"s":"e","r":0.242},
{"t":430,"s":"a","r":0.353},{"t":430,"s":"b","r":0.333},{"t":430,"s":"c","r":0.294},{"t":430,"s":"d","r":0.273},{"t":430,"s":"e","r":0.250},
{"t":440,"s":"a","r":0.350},{"t":440,"s":"b","r":0.338},{"t":440,"s":"c","r":0.306},{"t":440,"s":"d","r":0.282},{"t":440,"s":"e","r":0.244},
{"t":450,"s":"a","r":0.357},{"t":450,"s":"b","r":0.340},{"t":450,"s":"c","r":0.312},{"t":450,"s":"d","r":0.265},{"t":450,"s":"e","r":0.243},
{"t":460,"s":"a","r":0.348},{"t":460,"s":"b","r":0.333},{"t":460,"s":"c","r":0.304},{"t":460,"s":"d","r":0.282},{"t":460,"s":"e","r":0.245},
{"t":470,"s":"a","r":0.368},{"t":470,"s":"b","r":0.332},{"t":470,"s":"c","r":0.320},{"t":470,"s":"d","r":0.275},{"t":470,"s":"e","r":0.246},
{"t":480,"s":"a","r":0.360},{"t":480,"s":"b","r":0.330},{"t":480,"s":"c","r":0.305},{"t":480,"s":"d","r":0.278},{"t":480,"s":"e","r":0.251},
{"t":490,"s":"a","r":0.358},{"t":490,"s":"b","r":0.326},{"t":490,"s":"c","r":0.305},{"t":490,"s":"d","r":0.278},{"t":490,"s":"e","r":0.246},
{"t":500,"s":"a","r":0.360},{"t":500,"s":"b","r":0.330},{"t":500,"s":"c","r":0.303},{"t":500,"s":"d","r":0.263},{"t":500,"s":"e","r":0.238},
{"t":510,"s":"a","r":0.364},{"t":510,"s":"b","r":0.332},{"t":510,"s":"c","r":0.307},{"t":510,"s":"d","r":0.278},{"t":510,"s":"e","r":0.244},
{"t":520,"s":"a","r":0.367},{"t":520,"s":"b","r":0.325},{"t":520,"s":"c","r":0.307},{"t":520,"s":"d","r":0.275},{"t":520,"s":"e","r":0.250},
{"t":530,"s":"a","r":0.365},{"t":530,"s":"b","r":0.325},{"t":530,"s":"c","r":0.307},{"t":530,"s":"d","r":0.271},{"t":530,"s":"e","r":0.242},
{"t":540,"s":"a","r":0.350},{"t":540,"s":"b","r":0.330},{"t":540,"s":"c","r":0.310},{"t":540,"s":"d","r":0.282},{"t":540,"s":"e","r":0.250},
{"t":550,"s":"a","r":0.348},{"t":550,"s":"b","r":0.332},{"t":550,"s":"c","r":0.306},{"t":550,"s":"d","r":0.260},{"t":550,"s":"e","r":0.245},
{"t":560,"s":"a","r":0.357},{"t":560,"s":"b","r":0.338},{"t":560,"s":"c","r":0.310},{"t":560,"s":"d","r":0.285},{"t":560,"s":"e","r":0.253},
{"t":570,"s":"a","r":0.350},{"t":570,"s":"b","r":0.322},{"t":570,"s":"c","r":0.305},{"t":570,"s":"d","r":0.265},{"t":570,"s":"e","r":0.245},
{"t":580,"s":"a","r":0.348},{"t":580,"s":"b","r":0.333},{"t":580,"s":"c","r":0.310},{"t":580,"s":"d","r":0.272},{"t":580,"s":"e","r":0.246},
{"t":590,"s":"a","r":0.356},{"t":590,"s":"b","r":0.334},{"t":590,"s":"c","r":0.303},{"t":590,"s":"d","r":0.276},{"t":590,"s":"e","r":0.242},
{"t":600,"s":"a","r":0.352},{"t":600,"s":"b","r":0.335},{"t":600,"s":"c","r":0.303},{"t":600,"s":"d","r":0.291},{"t":600,"s":"e","r":0.242},
{"t":610,"s":"a","r":0.354},{"t":610,"s":"b","r":0.330},{"t":610,"s":"c","r":0.300},{"t":610,"s":"d","r":0.278},{"t":610,"s":"e","r":0.249},
{"t":620,"s":"a","r":0.364},{"t":620,"s":"b","r":0.322},{"t":620,"s":"c","r":0.310},{"t":620,"s":"d","r":0.270},{"t":620,"s":"e","r":0.238},
{"t":630,"s":"a","r":0.357},{"t":630,"s":"b","r":0.332},{"t":630,"s":"c","r":0.318},{"t":630,"s":"d","r":0.279},{"t":630,"s":"e","r":0.238},
{"t":640,"s":"a","r":0.357},{"t":640,"s":"b","r":0.322},{"t":640,"s":"c","r":0.305},{"t":640,"s":"d","r":0.266},{"t":640,"s":"e","r":0.246},
{"t":650,"s":"a","r":0.354},{"t":650,"s":"b","r":0.330},{"t":650,"s":"c","r":0.302},{"t":650,"s":"d","r":0.268},{"t":650,"s":"e","r":0.240},
{"t":660,"s":"a","r":0.351},{"t":660,"s":"b","r":0.341},{"t":660,"s":"c","r":0.310},{"t":660,"s":"d","r":0.279},{"t":660,"s":"e","r":0.236},
{"t":670,"s":"a","r":0.355},{"t":670,"s":"b","r":0.322},{"t":670,"s":"c","r":0.317},{"t":670,"s":"d","r":0.264},{"t":670,"s":"e","r":0.244},
{"t":680,"s":"a","r":0.355},{"t":680,"s":"b","r":0.331},{"t":680,"s":"c","r":0.308},{"t":680,"s":"d","r":0.274},{"t":680,"s":"e","r":0.242},
{"t":690,"s":"a","r":0.356},{"t":690,"s":"b","r":0.327},{"t":690,"s":"c","r":0.305},{"t":690,"s":"d","r":0.274},{"t":690,"s":"e","r":0.242},
{"t":700,"s":"a","r":0.351},{"t":700,"s":"b","r":0.328},{"t":700,"s":"c","r":0.300},{"t":700,"s":"d","r":0.270},{"t":700,"s":"e","r":0.243},
{"t":710,"s":"a","r":0.358},{"t":710,"s":"b","r":0.330},{"t":710,"s":"c","r":0.310},{"t":710,"s":"d","r":0.278},{"t":710,"s":"e","r":0.249},
{"t":720,"s":"a","r":0.358},{"t":720,"s":"b","r":0.333},{"t":720,"s":"c","r":0.298},{"t":720,"s":"d","r":0.266},{"t":720,"s":"e","r":0.248},
{"t":730,"s":"a","r":0.358},{"t":730,"s":"b","r":0.334},{"t":730,"s":"c","r":0.311},{"t":730,"s":"d","r":0.266},{"t":730,"s":"e","r":0.252}
]
},
"vconcat": [
 {
  "title": {"text": "MEA-CdTe QDs"},
  "width": 557, "height": 412,
  "data": {"name": "mea"},
  "mark": {"type": "line", "strokeWidth": 4.5},
  "encoding": {
   "x": {"field": "t", "type": "quantitative", "scale": {"domain": [-53, 750], "nice": false, "zero": false}, "axis": {"values": [0, 150, 300, 450, 600, 750], "title": "Time (s)"}},
   "y": {"field": "r", "type": "quantitative", "scale": {"domain": [0.30, 0.50], "nice": false, "zero": false}, "axis": {"values": [0.30, 0.35, 0.40, 0.45, 0.50], "format": ".2f", "title": "HP anisotropy r"}},
   "color": {"field": "s", "type": "nominal", "scale": {"domain": ["a", "b", "c", "d", "e"], "range": ["#000000", "#ee1c22", "#1d2ff5", "#2a9a70", "#c44ff5"]}, "legend": {"legendX": 578, "legendY": 25}}
  }
 },
 {
  "title": {"text": "L-Cys-CdTe QDs"},
  "width": 557, "height": 411,
  "data": {"name": "cys"},
  "mark": {"type": "line", "strokeWidth": 4.5},
  "encoding": {
   "x": {"field": "t", "type": "quantitative", "scale": {"domain": [-53, 750], "nice": false, "zero": false}, "axis": {"values": [0, 150, 300, 450, 600, 750], "title": "Time (s)"}},
   "y": {"field": "r", "type": "quantitative", "scale": {"domain": [0.30, 0.42], "nice": false, "zero": false}, "axis": {"values": [0.30, 0.33, 0.36, 0.39, 0.42], "format": ".2f", "title": "HP anisotropy r"}},
   "color": {"field": "s", "type": "nominal", "scale": {"domain": ["a", "b", "c", "d", "e"], "range": ["#000000", "#ee1c22", "#1d2ff5", "#2a9a70", "#c44ff5"]}, "legend": {"legendX": 570, "legendY": 2}}
  }
 },
 {
  "title": {"text": "TGA-CdTe QDs"},
  "width": 557, "height": 410,
  "data": {"name": "tga"},
  "mark": {"type": "line", "strokeWidth": 4.5},
  "encoding": {
   "x": {"field": "t", "type": "quantitative", "scale": {"domain": [-53, 750], "nice": false, "zero": false}, "axis": {"values": [0, 150, 300, 450, 600, 750], "title": "Time (s)"}},
   "y": {"field": "r", "type": "quantitative", "scale": {"domain": [0.22, 0.40], "nice": false, "zero": false}, "axis": {"values": [0.24, 0.28, 0.32, 0.36, 0.40], "format": ".2f", "title": "HP anisotropy r"}},
   "color": {"field": "s", "type": "nominal", "scale": {"domain": ["a", "b", "c", "d", "e"], "range": ["#000000", "#ee1c22", "#1d2ff5", "#2a9a70", "#c44ff5"]}, "legend": {"legendX": 577, "legendY": -14}}
  }
 }
]
}
